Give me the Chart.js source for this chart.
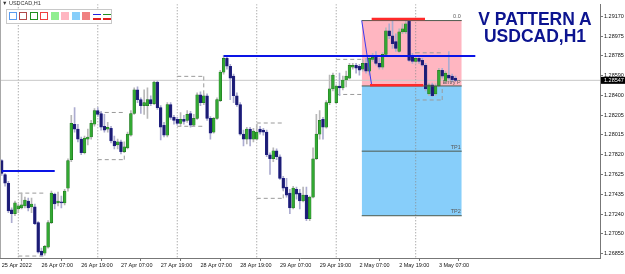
<!DOCTYPE html>
<html>
<head>
<meta charset="utf-8">
<script src="https://cdn.jsdelivr.net/npm/chart.js@4.4.0/dist/chart.umd.min.js"></script>
<style>
  html, body { margin: 0; padding: 0; background: #fff; }
  #wrap { position: relative; width: 625px; height: 274px; overflow: hidden; }
  #chart { position: absolute; left: 0; top: 0; }
  .edge { position: absolute; left: 0; top: 0; width: 1px; height: 258px; background: #a8a8a8; }
  .sym { position: absolute; left: 2px; top: 0px; font: 5.5px "Liberation Sans", Arial, sans-serif; color: #333; white-space: nowrap; }
  .bar { position: absolute; left: 6px; top: 9px; width: 104px; height: 13px; border: 1px solid #c8c8c8; background: #fff; }
  .ico { position: absolute; top: 2px; width: 8px; height: 8px; box-sizing: border-box; }
  .ln { position: absolute; left: 0; width: 8px; height: 1.5px; }
  .title { position: absolute; left: 470px; width: 130px; text-align: center; font: bold 17.5px "Liberation Sans", Arial, sans-serif; line-height: 17.5px; color: #0c1490; white-space: nowrap; }
</style>
</head>
<body>
<div id="wrap">
  <canvas id="chart" width="625" height="274"></canvas>
  <div class="edge"></div>
  <div class="sym">▼ USDCAD,H1</div>
  <div class="bar">
    <div class="ico" style="left:1.5px;border:1.5px solid #5a9cf0"></div>
    <div class="ico" style="left:12px;border:1.5px solid #b04848"></div>
    <div class="ico" style="left:22.5px;border:1.5px solid #1f8f1f"></div>
    <div class="ico" style="left:33px;border:1.5px solid #f04040"></div>
    <div class="ico" style="left:43.5px;background:#90ee90"></div>
    <div class="ico" style="left:54px;background:#ffb6c1"></div>
    <div class="ico" style="left:64.5px;background:#87cefa"></div>
    <div class="ico" style="left:75px;background:#f08080"></div>
    <div class="ico" style="left:85.5px">
      <div class="ln" style="top:1.5px;background:#2020e0"></div>
      <div class="ln" style="top:6px;background:#e02020"></div>
    </div>
    <div class="ico" style="left:95.5px">
      <div class="ln" style="top:1.5px;background:#1f8f1f"></div>
      <div class="ln" style="top:6px;background:#e02020"></div>
    </div>
  </div>
  <div class="title" style="top:11px">V PATTERN A</div>
  <div class="title" style="top:28px">USDCAD,H1</div>
</div>
<script>
// USDCAD H1, one value per bar, bar 0 = 25 Apr 2022 19:00
const opens = [
  1.27762, 1.27627, 1.27541, 1.27282, 1.27243, 1.27291, 1.27301, 1.27320, 1.27368, 1.27310,
  1.27310, 1.27157, 1.26878, 1.26859, 1.26916, 1.27157, 1.27435, 1.27349, 1.27358, 1.27349,
  1.27493, 1.27772, 1.28118, 1.28070, 1.27973, 1.27839, 1.27973, 1.27993, 1.28118, 1.28252,
  1.28223, 1.28098, 1.28070, 1.28079, 1.27954, 1.27916, 1.27945, 1.27849, 1.27887, 1.28012,
  1.28223, 1.28454, 1.28358, 1.28300, 1.28300, 1.28358, 1.28319, 1.28531, 1.28281, 1.28108,
  1.28012, 1.28310, 1.28185, 1.28166, 1.28127, 1.28166, 1.28156, 1.28223, 1.28108, 1.28175,
  1.28406, 1.28329, 1.28396, 1.28175, 1.28041, 1.28175, 1.28348, 1.28627, 1.28761, 1.28685,
  1.28588, 1.28396, 1.28310, 1.28021, 1.27973, 1.28070, 1.27973, 1.27973, 1.28070, 1.28060,
  1.28041, 1.27820, 1.27781, 1.27858, 1.27800, 1.27589, 1.27503, 1.27445, 1.27301, 1.27483,
  1.27445, 1.27368, 1.27426, 1.27195, 1.27406, 1.27781, 1.28021, 1.28166, 1.28089, 1.28329,
  1.28464, 1.28329, 1.28492, 1.28473, 1.28550, 1.28569, 1.28675, 1.28694, 1.28685, 1.28656,
  1.28713, 1.28637, 1.28752, 1.28771, 1.28713, 1.28675, 1.28800, 1.29031, 1.28982, 1.28925,
  1.28829, 1.29021, 1.29021, 1.29127, 1.28790, 1.28733, 1.28761, 1.28742, 1.28694, 1.28415,
  1.28502, 1.28415, 1.28492, 1.28646, 1.28540, 1.28598, 1.28588, 1.28569
];
const highs = [
  1.27772, 1.27637, 1.27560, 1.27301, 1.27368, 1.27339, 1.27445, 1.27406, 1.27397, 1.27397,
  1.27339, 1.27166, 1.26907, 1.26936, 1.27176, 1.27464, 1.27445, 1.27454, 1.27416, 1.27483,
  1.27781, 1.28204, 1.28281, 1.28118, 1.27993, 1.28002, 1.28070, 1.28156, 1.28271, 1.28281,
  1.28243, 1.28214, 1.28137, 1.28098, 1.28002, 1.27973, 1.27964, 1.27945, 1.28041, 1.28252,
  1.28473, 1.28483, 1.28377, 1.28454, 1.28473, 1.28396, 1.28540, 1.28540, 1.28300, 1.28137,
  1.28329, 1.28329, 1.28204, 1.28185, 1.28233, 1.28204, 1.28252, 1.28243, 1.28214, 1.28425,
  1.28435, 1.28415, 1.28415, 1.28194, 1.28185, 1.28377, 1.28646, 1.28790, 1.28781, 1.28704,
  1.28608, 1.28425, 1.28329, 1.28060, 1.28089, 1.28089, 1.28079, 1.28118, 1.28098, 1.28079,
  1.28060, 1.27839, 1.27887, 1.27877, 1.27820, 1.27608, 1.27589, 1.27483, 1.27512, 1.27503,
  1.27483, 1.27503, 1.27503, 1.27416, 1.27887, 1.28214, 1.28252, 1.28185, 1.28348, 1.28598,
  1.28617, 1.28502, 1.28617, 1.28588, 1.28637, 1.28713, 1.28713, 1.28713, 1.28704, 1.28742,
  1.28761, 1.28790, 1.28810, 1.28829, 1.28761, 1.28819, 1.29059, 1.29098, 1.29146, 1.29002,
  1.29050, 1.29098, 1.29146, 1.29146, 1.28810, 1.28790, 1.28781, 1.28761, 1.28713, 1.28521,
  1.28521, 1.28512, 1.28665, 1.28665, 1.28637, 1.28829, 1.28608, 1.28588
];
const lows = [
  1.27618, 1.27512, 1.27253, 1.27157, 1.27224, 1.27253, 1.27291, 1.27301, 1.27272, 1.27253,
  1.27137, 1.26859, 1.26830, 1.26839, 1.26907, 1.27147, 1.27291, 1.27320, 1.27301, 1.27330,
  1.27464, 1.27752, 1.28041, 1.27945, 1.27820, 1.27829, 1.27916, 1.27973, 1.28098, 1.28194,
  1.28060, 1.28041, 1.28041, 1.27935, 1.27877, 1.27877, 1.27829, 1.27839, 1.27877, 1.28002,
  1.28214, 1.28329, 1.28223, 1.28214, 1.28175, 1.28300, 1.28310, 1.28262, 1.27964, 1.27993,
  1.27993, 1.28166, 1.28118, 1.28108, 1.28098, 1.28118, 1.28137, 1.28089, 1.28098, 1.28166,
  1.28300, 1.28310, 1.28156, 1.27973, 1.28031, 1.28166, 1.28339, 1.28608, 1.28656, 1.28358,
  1.28329, 1.28291, 1.28012, 1.27906, 1.27925, 1.27906, 1.27945, 1.27964, 1.28021, 1.28012,
  1.27800, 1.27627, 1.27752, 1.27772, 1.27579, 1.27474, 1.27406, 1.27243, 1.27291, 1.27387,
  1.27291, 1.27358, 1.27176, 1.27176, 1.27397, 1.27772, 1.27973, 1.27973, 1.28079, 1.28310,
  1.28444, 1.28319, 1.28396, 1.28454, 1.28483, 1.28560, 1.28656, 1.28617, 1.28598, 1.28637,
  1.28617, 1.28598, 1.28733, 1.28694, 1.28656, 1.28656, 1.28790, 1.28954, 1.28858, 1.28829,
  1.28819, 1.29002, 1.29002, 1.28733, 1.28713, 1.28713, 1.28713, 1.28685, 1.28444, 1.28396,
  1.28387, 1.28396, 1.28483, 1.28569, 1.28521, 1.28550, 1.28531, 1.28540
];
const closes = [
  1.27637, 1.27541, 1.27272, 1.27243, 1.27349, 1.27320, 1.27330, 1.27378, 1.27301, 1.27339,
  1.27147, 1.26868, 1.26839, 1.26926, 1.27157, 1.27445, 1.27339, 1.27368, 1.27349, 1.27464,
  1.27762, 1.28127, 1.28070, 1.27973, 1.27839, 1.27983, 1.27993, 1.28127, 1.28252, 1.28214,
  1.28089, 1.28060, 1.28089, 1.27954, 1.27906, 1.27945, 1.27849, 1.27897, 1.28021, 1.28223,
  1.28454, 1.28358, 1.28300, 1.28329, 1.28358, 1.28319, 1.28531, 1.28281, 1.28089, 1.28012,
  1.28310, 1.28185, 1.28156, 1.28127, 1.28166, 1.28146, 1.28214, 1.28108, 1.28175, 1.28406,
  1.28329, 1.28396, 1.28175, 1.28031, 1.28175, 1.28358, 1.28627, 1.28761, 1.28685, 1.28569,
  1.28396, 1.28310, 1.28021, 1.27973, 1.28070, 1.27973, 1.28050, 1.28041, 1.28041, 1.28041,
  1.27820, 1.27781, 1.27858, 1.27800, 1.27589, 1.27493, 1.27426, 1.27301, 1.27493, 1.27435,
  1.27368, 1.27426, 1.27195, 1.27406, 1.27781, 1.28021, 1.28156, 1.28089, 1.28329, 1.28464,
  1.28598, 1.28492, 1.28473, 1.28550, 1.28588, 1.28694, 1.28694, 1.28665, 1.28646, 1.28713,
  1.28637, 1.28761, 1.28771, 1.28713, 1.28675, 1.28800, 1.29031, 1.28982, 1.28906, 1.28858,
  1.29021, 1.29050, 1.29098, 1.28742, 1.28733, 1.28761, 1.28733, 1.28694, 1.28464, 1.28502,
  1.28396, 1.28492, 1.28646, 1.28588, 1.28617, 1.28569, 1.28550, 1.28547
];

// axis ticks
const priceTicks = [1.29170, 1.28975, 1.28785, 1.28590, 1.28400, 1.28205, 1.28015,
                    1.27820, 1.27625, 1.27435, 1.27240, 1.27050, 1.26855];
const tickBars = [0, 12, 24, 36, 48, 60, 72, 84, 96, 108, 120, 132];
const tickLabels = ['25 Apr 2022', '26 Apr 07:00', '26 Apr 19:00', '27 Apr 07:00', '27 Apr 19:00',
                    '28 Apr 07:00', '28 Apr 19:00', '29 Apr 07:00', '29 Apr 19:00',
                    '2 May 07:00', '2 May 19:00', '3 May 07:00'];
const daySeps = [5, 29, 53, 77, 101, 125];
const bid = 1.28547;

// daily range boxes (first 8 bars of each day)
const boxHigh = [1.27445, 1.28233, 1.28586, 1.28130, 1.28752, 1.28816];
const boxLow  = [1.26830, 1.27772, 1.28098, 1.27394, 1.28409, 1.28355];
const edgeFrom = [null, 1.27772, 1.28586, 1.27394, 1.28752, 1.28355];
const edgeTo   = [null, 1.27877, 1.28396, 1.27493, 1.28694, 1.28473];

// drawn objects
const hLines = [{from: 0, to: 16, price: 1.27661}, {from: 67, to: 143, price: 1.28785}];
const zoneFrom = 108.7, zoneTo = 138.9;
const fibLevels = [1.29131, 1.28492, 1.27855, 1.27224];
const fibNames = ['0.0', 'Entry P', 'TP1', 'TP2'];
const redTop = {from: 111.7, to: 127.8, price: 1.29146};
const redBottom = {from: 111.2, to: 127.3, price: 1.28499};
const legLine = [{x: 108.7, y: 1.29131}, {x: 111.7, y: 1.28499}];

const yMin = 1.26811, yMax = 1.29290;
const xMin = -0.525, xMax = 180.65;

const up = closes.map((c, i) => c >= opens[i]);

const seg = (from, to, price) => [{x: from, y: price}, {x: to, y: price}];

const boxData = [];
daySeps.forEach((d, k) => {
  boxData.push({x: d, y: boxHigh[k]}, {x: d + 8, y: boxHigh[k]}, {x: d + 8, y: null});
  boxData.push({x: d, y: boxLow[k]}, {x: d + 8, y: boxLow[k]}, {x: d + 8, y: null});
  if (edgeFrom[k] !== null) {
    boxData.push({x: d + 8, y: edgeFrom[k]}, {x: d + 8, y: edgeTo[k]}, {x: d + 8, y: null});
  }
});

const sepData = [];
daySeps.forEach(d => sepData.push({x: d, y: yMax}, {x: d, y: yMin}, {x: d, y: null}));

const fibData = [];
fibLevels.forEach(v => fibData.push({x: zoneFrom, y: v}, {x: zoneTo, y: v}, {x: zoneTo, y: null}));

const blueData = [];
hLines.forEach(h => blueData.push(...seg(h.from, h.to, h.price), {x: h.to, y: null}));

const redData = [...seg(redTop.from, redTop.to, redTop.price), {x: redTop.to, y: null},
                 ...seg(redBottom.from, redBottom.to, redBottom.price)];

const thin = {type: 'line', pointRadius: 0, fill: false, spanGaps: false};

const labelsPlugin = {
  id: 'labelsPlugin',
  afterDatasetsDraw(chart) {
    const {ctx, scales: {x, y}} = chart;
    ctx.save();
    ctx.font = '5.5px "Liberation Sans", Arial, sans-serif';
    ctx.fillStyle = '#5a5a5a';
    ctx.textAlign = 'right';
    ctx.textBaseline = 'bottom';
    fibLevels.forEach((v, k) => {
      ctx.fillText(fibNames[k], x.getPixelForValue(zoneTo) - 1, y.getPixelForValue(v) - 1);
    });
    ctx.restore();
  },
  afterDraw(chart) {
    const {ctx, scales: {y}, chartArea} = chart;
    const py = y.getPixelForValue(bid);
    ctx.save();
    ctx.fillStyle = '#000';
    ctx.fillRect(chartArea.right + 1, py - 3.5, 24, 7);
    ctx.fillStyle = '#fff';
    ctx.font = '5.5px "Liberation Sans", Arial, sans-serif';
    ctx.textAlign = 'left';
    ctx.textBaseline = 'middle';
    ctx.fillText(bid.toFixed(5), chartArea.right + 4, py + 0.5);
    ctx.restore();
  }
};

new Chart(document.getElementById('chart'), {
  type: 'bar',
  data: {
    datasets: [
      {...thin, data: blueData, borderColor: '#0a14e6', borderWidth: 2},
      {...thin, data: redData, borderColor: '#ff2a2a', borderWidth: 2.5},
      {...thin, data: legLine, borderColor: '#3a3af0', borderWidth: 1},
      {...thin, data: fibData, borderColor: '#4e5a4e', borderWidth: 1},
      {
        data: opens.map((o, i) => ({x: i, y: [o, closes[i]]})),
        backgroundColor: up.map(u => u ? '#32a832' : '#1c1c74'),
        borderColor: up.map(u => u ? '#1a6a1a' : '#22228a'),
        borderWidth: 0.5,
        borderSkipped: false,
        barThickness: 2.8,
        minBarLength: 1,
        grouped: false
      },
      {
        data: lows.map((l, i) => ({x: i, y: [l, highs[i]]})),
        backgroundColor: up.map(u => u ? '#b8b8b8' : '#acacd0'),
        borderWidth: 0,
        barThickness: 1,
        grouped: false
      },
      {...thin, data: boxData, borderColor: '#9a9a9a', borderWidth: 1, borderDash: [4, 3]},
      {...thin, data: seg(xMin, xMax, bid), borderColor: '#c8c8c8', borderWidth: 1},
      {...thin, data: sepData, borderColor: '#8a8a8a', borderWidth: 1, borderDash: [1, 2]},
      {...thin, data: seg(zoneFrom, zoneTo, fibLevels[0]), borderWidth: 0,
        fill: {value: fibLevels[1]}, backgroundColor: '#ffb6c1'},
      {...thin, data: seg(zoneFrom, zoneTo, fibLevels[1]), borderWidth: 0,
        fill: {value: fibLevels[3]}, backgroundColor: '#87cefa'}
    ]
  },
  options: {
    responsive: false,
    animation: false,
    events: [],
    layout: {padding: 0},
    plugins: {legend: {display: false}, tooltip: {enabled: false}},
    scales: {
      x: {
        type: 'linear',
        min: xMin,
        max: xMax,
        offset: false,
        afterFit: s => { s.height = 16; },
        afterBuildTicks: s => { s.ticks = tickBars.map(v => ({value: v})); },
        grid: {drawOnChartArea: false, drawTicks: true, tickLength: 3, color: '#777'},
        border: {display: true, color: '#777'},
        ticks: {
          autoSkip: false,
          maxRotation: 0,
          align: 'start',
          padding: 1,
          color: '#111',
          font: {family: 'Liberation Sans', size: 5.5},
          callback: v => tickLabels[tickBars.indexOf(v)]
        }
      },
      y: {
        type: 'linear',
        position: 'right',
        min: yMin,
        max: yMax,
        afterFit: s => { s.width = 25; },
        afterBuildTicks: s => { s.ticks = priceTicks.map(v => ({value: v})); },
        grid: {drawOnChartArea: false, drawTicks: true, tickLength: 3, color: '#777'},
        border: {display: true, color: '#777'},
        ticks: {
          padding: 1,
          color: '#111',
          font: {family: 'Liberation Sans', size: 5.5},
          callback: v => v.toFixed(5)
        }
      }
    }
  },
  plugins: [labelsPlugin]
});
</script>
</body>
</html>
